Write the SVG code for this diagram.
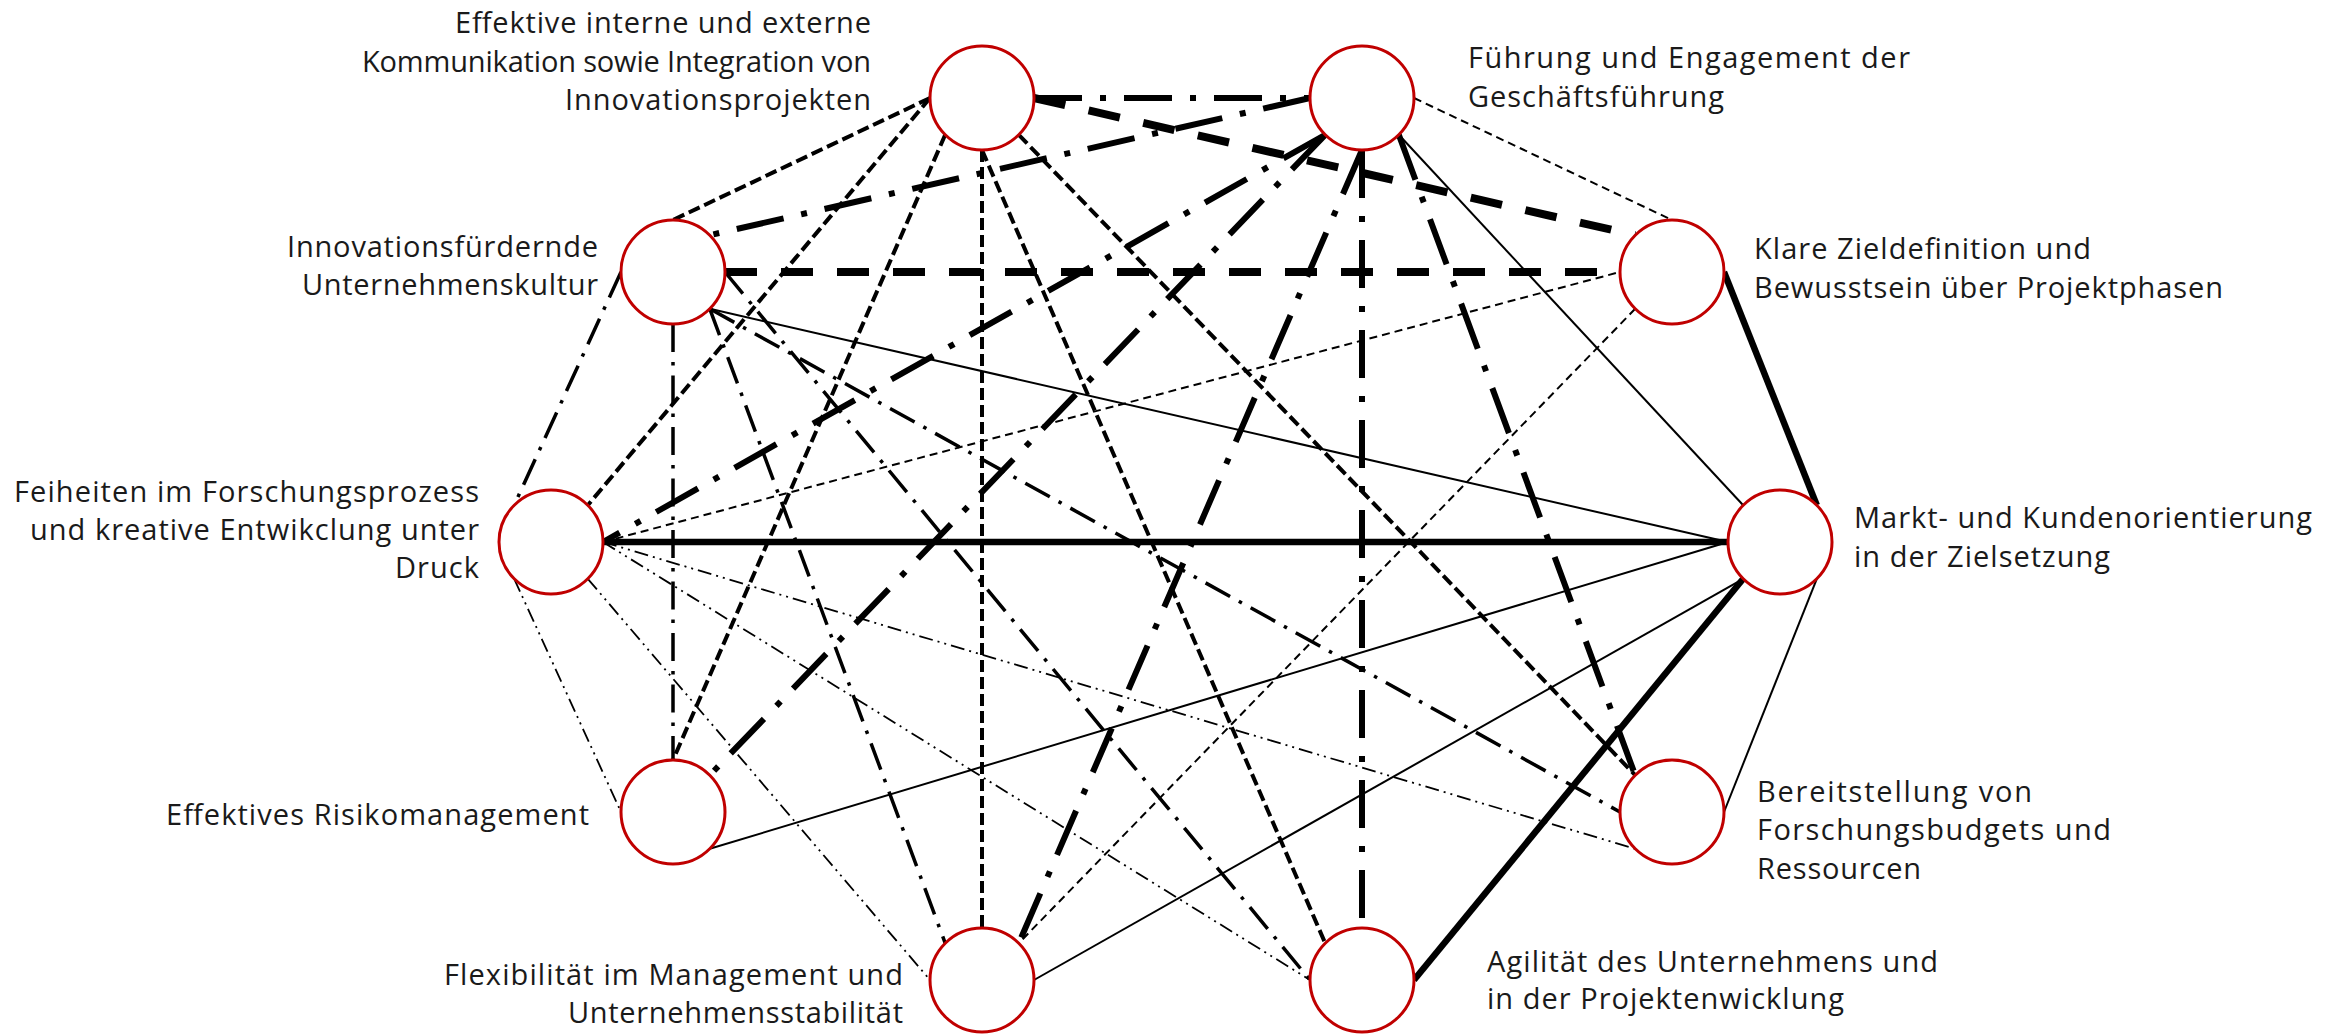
<svg xmlns="http://www.w3.org/2000/svg" width="2346" height="1035" viewBox="0 0 2346 1035">
<style>
.bg{fill:#ffffff}
.n circle{fill:#ffffff;stroke:#C00000;stroke-width:3}
.n text{font-family:"Open Sans","Noto Sans","Liberation Sans",sans-serif;font-weight:400;font-size:29px;fill:#1a1a1a}
.r{text-anchor:end}
#edges line{stroke:#000000;fill:none;stroke-linecap:butt}
.ts{stroke-width:6.5}
.tn{stroke-width:2}
.tkd{stroke-width:8;stroke-dasharray:32 24}
.md{stroke-width:4;stroke-dasharray:12 5}
.thd{stroke-width:2;stroke-dasharray:8 5}
.tdd{stroke-width:6;stroke-dasharray:48 18 6 18}
.mdd{stroke-width:3.5;stroke-dasharray:28 10 3.5 10}
.tddd{stroke-width:1.8;stroke-dasharray:14 5 2 5 2 5}
</style>
<rect class="bg" x="0" y="0" width="2346" height="1035"/>
<g id="edges">
  <!-- thick solid -->
  <line class="ts" x1="603" y1="542" x2="1728" y2="542"/>
  <line class="ts" x1="1724" y1="272" x2="1816.8" y2="505.2"/>
  <line class="ts" x1="1743.2" y1="578.8" x2="1414" y2="980"/>
  <!-- thin solid -->
  <line class="tn" x1="1398.8" y1="134.8" x2="1743.2" y2="505.2"/>
  <line class="tn" x1="709.8" y1="308.8" x2="1728" y2="542"/>
  <line class="tn" x1="1728" y1="542" x2="709.8" y2="848.8"/>
  <line class="tn" x1="1816.8" y1="578.8" x2="1724" y2="812"/>
  <line class="tn" x1="1743.2" y1="578.8" x2="1034" y2="980"/>
  <!-- thick dashed -->
  <line class="tkd" x1="1034" y1="98" x2="1635.2" y2="235.2"/>
  <line class="tkd" x1="725" y1="272" x2="1620" y2="272"/>
  <!-- medium dashed -->
  <line class="md" x1="930" y1="98" x2="673" y2="220"/>
  <line class="md" x1="930" y1="98" x2="587.8" y2="505.2"/>
  <line class="md" x1="945.2" y1="134.8" x2="673" y2="760"/>
  <line class="md" x1="982" y1="150" x2="982" y2="928"/>
  <line class="md" x1="982" y1="150" x2="1325.2" y2="943.2"/>
  <line class="md" x1="1018.8" y1="134.8" x2="1635.2" y2="775.2"/>
  <!-- thin dashed -->
  <line class="thd" x1="1414" y1="98" x2="1672" y2="220"/>
  <line class="thd" x1="603" y1="542" x2="1620" y2="272"/>
  <line class="thd" x1="1635.2" y1="308.8" x2="1018.8" y2="943.2"/>
  <!-- thick long dash dot -->
  <line class="tdd" x1="1034" y1="98" x2="1310" y2="98"/>
  <line class="tdd" x1="1310" y1="98" x2="709.8" y2="235.2"/>
  <line class="tdd" x1="1325.2" y1="134.8" x2="603" y2="542"/>
  <line class="tdd" x1="1325.2" y1="134.8" x2="709.8" y2="775.2"/>
  <line class="tdd" x1="1362" y1="150" x2="1018.8" y2="943.2"/>
  <line class="tdd" x1="1362" y1="150" x2="1362" y2="928"/>
  <line class="tdd" x1="1398.8" y1="134.8" x2="1635.2" y2="775.2"/>
  <!-- medium dash dot -->
  <line class="mdd" x1="621" y1="272" x2="514.2" y2="505.2"/>
  <line class="mdd" x1="673" y1="324" x2="673" y2="760"/>
  <line class="mdd" x1="709.8" y1="308.8" x2="1620" y2="812"/>
  <line class="mdd" x1="709.8" y1="308.8" x2="945.2" y2="943.2"/>
  <line class="mdd" x1="725" y1="272" x2="1310" y2="980"/>
  <!-- thin dash dot dot -->
  <line class="tddd" x1="514.2" y1="578.8" x2="621" y2="812"/>
  <line class="tddd" x1="603" y1="542" x2="1635.2" y2="848.8"/>
  <line class="tddd" x1="587.8" y1="578.8" x2="930" y2="980"/>
  <line class="tddd" x1="603" y1="542" x2="1310" y2="980"/>
</g>
<g id="node-kommunikation" class="n">
  <circle cx="982" cy="98" r="52"/>
  <text class="r" x="871" y="33" textLength="416" lengthAdjust="spacing">Effektive interne und externe</text>
  <text class="r" x="871" y="71.5" textLength="509" lengthAdjust="spacing">Kommunikation sowie Integration von</text>
  <text class="r" x="871" y="110" textLength="306" lengthAdjust="spacing">Innovationsprojekten</text>
</g>
<g id="node-fuehrung" class="n">
  <circle cx="1362" cy="98" r="52"/>
  <text x="1468" y="68" textLength="442" lengthAdjust="spacing">Führung und Engagement der</text>
  <text x="1468" y="106.5" textLength="256" lengthAdjust="spacing">Geschäftsführung</text>
</g>
<g id="node-kultur" class="n">
  <circle cx="673" cy="272" r="52"/>
  <text class="r" x="598" y="257" textLength="311" lengthAdjust="spacing">Innovationsfürdernde</text>
  <text class="r" x="598" y="295" textLength="296" lengthAdjust="spacing">Unternehmenskultur</text>
</g>
<g id="node-ziel" class="n">
  <circle cx="1672" cy="272" r="52"/>
  <text x="1754" y="259" textLength="337" lengthAdjust="spacing">Klare Zieldefinition und</text>
  <text x="1754" y="298" textLength="469" lengthAdjust="spacing">Bewusstsein über Projektphasen</text>
</g>
<g id="node-freiheiten" class="n">
  <circle cx="551" cy="542" r="52"/>
  <text class="r" x="479" y="502" textLength="465" lengthAdjust="spacing">Feiheiten im Forschungsprozess</text>
  <text class="r" x="479" y="540" textLength="449" lengthAdjust="spacing">und kreative Entwikclung unter</text>
  <text class="r" x="479" y="578" textLength="84" lengthAdjust="spacing">Druck</text>
</g>
<g id="node-markt" class="n">
  <circle cx="1780" cy="542" r="52"/>
  <text x="1854" y="528" textLength="458" lengthAdjust="spacing">Markt- und Kundenorientierung</text>
  <text x="1854" y="567" textLength="256" lengthAdjust="spacing">in der Zielsetzung</text>
</g>
<g id="node-risiko" class="n">
  <circle cx="673" cy="812" r="52"/>
  <text class="r" x="589" y="825" textLength="423" lengthAdjust="spacing">Effektives Risikomanagement</text>
</g>
<g id="node-budget" class="n">
  <circle cx="1672" cy="812" r="52"/>
  <text x="1757" y="802" textLength="275" lengthAdjust="spacing">Bereitstellung von</text>
  <text x="1757" y="840" textLength="354" lengthAdjust="spacing">Forschungsbudgets und</text>
  <text x="1757" y="879" textLength="164" lengthAdjust="spacing">Ressourcen</text>
</g>
<g id="node-flexibilitaet" class="n">
  <circle cx="982" cy="980" r="52"/>
  <text class="r" x="903" y="985" textLength="459" lengthAdjust="spacing">Flexibilität im Management und</text>
  <text class="r" x="903" y="1023" textLength="335" lengthAdjust="spacing">Unternehmensstabilität</text>
</g>
<g id="node-agilitaet" class="n">
  <circle cx="1362" cy="980" r="52"/>
  <text x="1487" y="972" textLength="451" lengthAdjust="spacing">Agilität des Unternehmens und</text>
  <text x="1487" y="1009" textLength="357" lengthAdjust="spacing">in der Projektenwicklung</text>
</g>
</svg>
